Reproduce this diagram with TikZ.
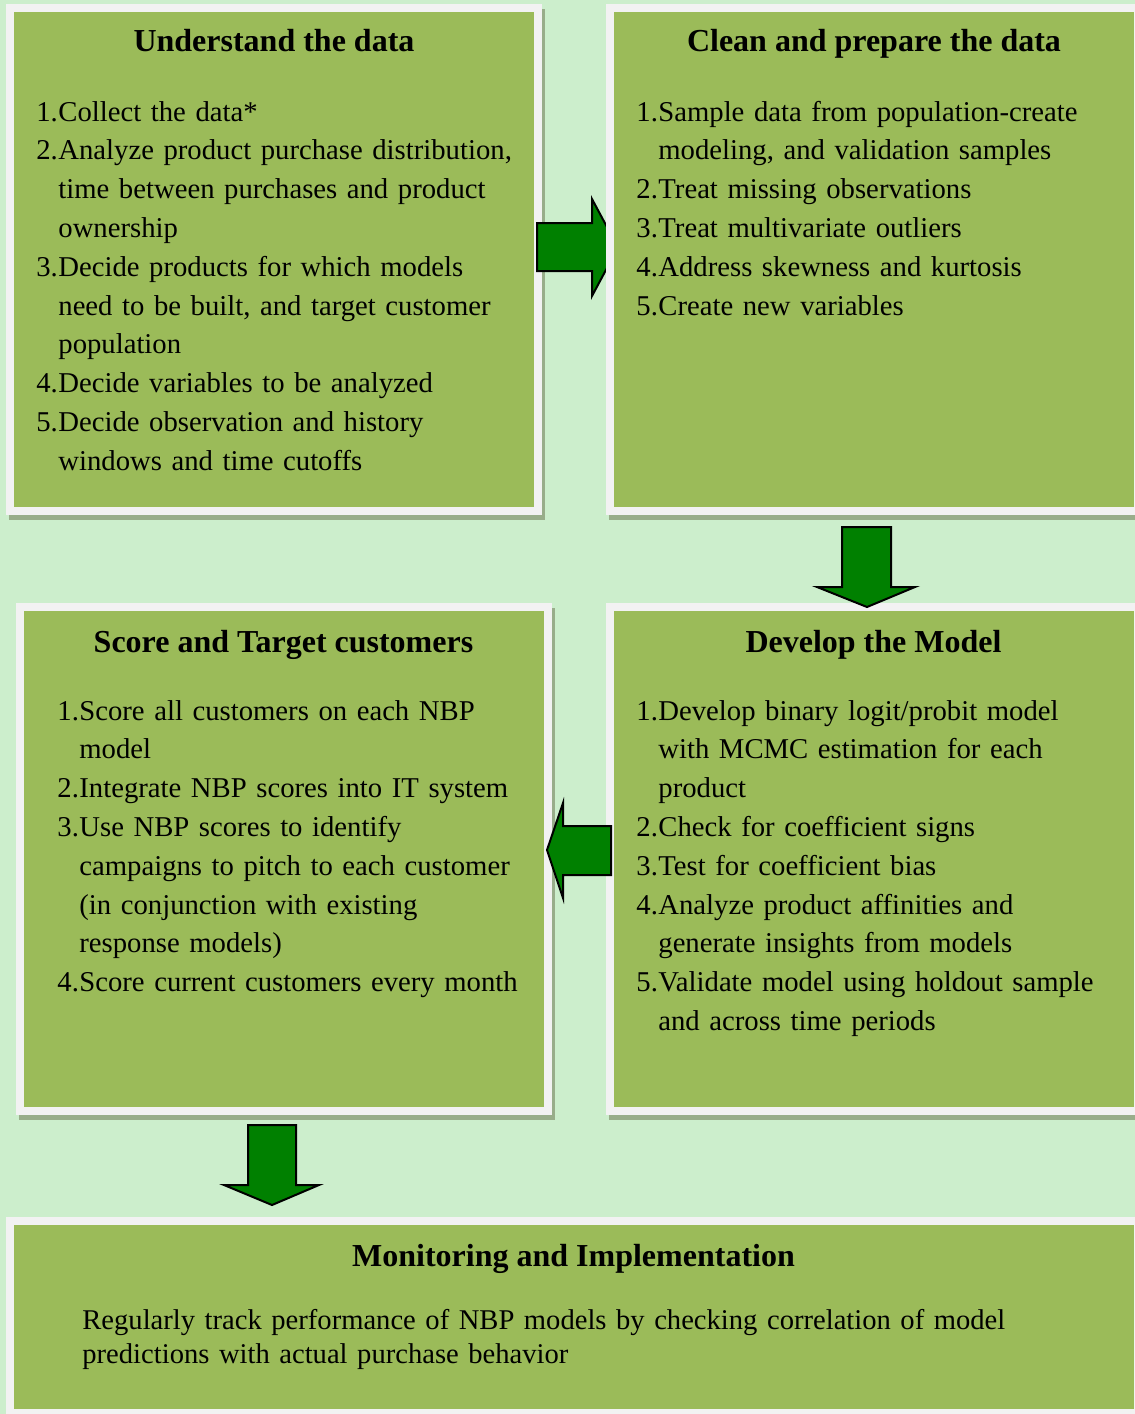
\documentclass[tikz,border=0pt]{standalone}
\usepackage{fontspec}
\setmainfont{Liberation Serif}
\definecolor{bgc}{HTML}{CCEECC}
\definecolor{boxc}{HTML}{9BBB59}
\definecolor{framec}{HTML}{F2F2F2}
\definecolor{shadowc}{HTML}{98AD8A}
\definecolor{arrowc}{HTML}{008000}
\newcommand{\nbpfirst}[1]{\noindent\hangindent=11pt\hangafter=1\makebox[11pt][l]{#1}}
\newcommand{\nbpitem}[1]{\par\nbpfirst{#1}}
\tikzset{
  shadowbox/.style={fill=shadowc, draw=none},
  framebox/.style={fill=framec, draw=none},
  greenbox/.style={fill=boxc, draw=none},
  boxtitle/.style={font=\fontsize{16}{19}\selectfont\bfseries, inner sep=0pt, anchor=base},
  listtext/.style={font=\fontsize{14.35}{19.4}\selectfont, inner sep=0pt, anchor=base west, text width=300pt, align=left},
  plaintext/.style={font=\fontsize{14.3}{17}\selectfont, inner sep=0pt, anchor=base west, text width=520pt, align=left},
  blockarrow/.style={fill=arrowc, draw=black, line width=1pt, line join=miter}
}
\newcommand{\panel}[4]{%
  \fill[shadowbox] (#1+3,#2+5) rectangle (#3+3,#4+5);
  \fill[framebox] (#1,#2) rectangle (#3,#4);
  \fill[greenbox] (#1+8,#2+8) rectangle (#3-8,#4-8);
}
\begin{document}
\begin{tikzpicture}[x=0.5pt,y=-0.5pt]
\useasboundingbox (0,0) rectangle (1135,1414);
\fill[bgc] (0,0) rectangle (1135,1414);

% box 1
\panel{6}{4}{542}{515}
% right arrow (under box 2)
\draw[blockarrow] (537,223) -- (592,223) -- (592,199) -- (618,247.5) -- (592,296) -- (592,271) -- (537,271) -- cycle;
% box 2
\panel{606}{4}{1142}{515}
% box 3
\panel{16}{603}{552}{1115}
% box 4
\panel{606}{603}{1142}{1115}
% box 5
\panel{6}{1217}{1142}{1417}

% down arrow 1
\draw[blockarrow] (842,527) -- (891,527) -- (891,587) -- (915,587) -- (867,607) -- (817,587) -- (842,587) -- cycle;
% left arrow
\draw[blockarrow] (611,826) -- (563,826) -- (563,803) -- (547,850) -- (563,898) -- (563,875) -- (611,875) -- cycle;
% down arrow 2
\draw[blockarrow] (248,1125) -- (296,1125) -- (296,1185) -- (319,1185) -- (272,1205) -- (224,1185) -- (248,1185) -- cycle;

% titles
\node[boxtitle] (t1) at (274,51) {Understand the data};
\node[boxtitle] (t2) at (874,51) {Clean and prepare the data};
\node[boxtitle] (t3) at (283.5,652) {Score and Target customers};
\node[boxtitle] (t4) at (873.5,652) {Develop the Model};
\node[boxtitle] (t5) at (573.5,1266) {Monitoring and Implementation};

% lists
\node[listtext] (l1) at (36,121) {%
\nbpfirst{1.}Collect the data*
\nbpitem{2.}Analyze product purchase distribution,\newline time between purchases and product\newline ownership
\nbpitem{3.}Decide products for which models\newline need to be built, and target customer\newline population
\nbpitem{4.}Decide variables to be analyzed
\nbpitem{5.}Decide observation and history\newline windows and time cutoffs\par};

\node[listtext] (l2) at (636,121) {%
\nbpfirst{1.}Sample data from population-create\newline modeling, and validation samples
\nbpitem{2.}Treat missing observations
\nbpitem{3.}Treat multivariate outliers
\nbpitem{4.}Address skewness and kurtosis
\nbpitem{5.}Create new variables\par};

\node[listtext] (l3) at (57,720) {%
\nbpfirst{1.}Score all customers on each NBP\newline model
\nbpitem{2.}Integrate NBP scores into IT system
\nbpitem{3.}Use NBP scores to identify\newline campaigns to pitch to each customer\newline (in conjunction with existing\newline response models)
\nbpitem{4.}Score current customers every month\par};

\node[listtext] (l4) at (636,720) {%
\nbpfirst{1.}Develop binary logit/probit model\newline with MCMC estimation for each\newline product
\nbpitem{2.}Check for coefficient signs
\nbpitem{3.}Test for coefficient bias
\nbpitem{4.}Analyze product affinities and\newline generate insights from models
\nbpitem{5.}Validate model using holdout sample\newline and across time periods\par};

\node[plaintext] (l5) at (82,1329) {%
Regularly track performance of NBP models by checking correlation of model\newline predictions with actual purchase behavior\par};
\end{tikzpicture}
\end{document}
